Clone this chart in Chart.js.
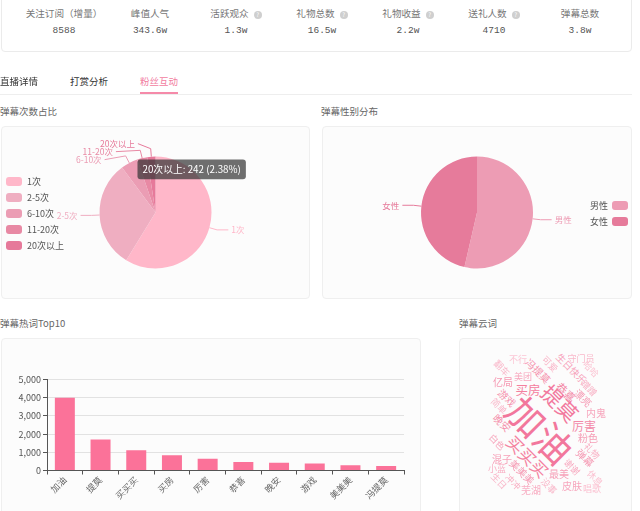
<!DOCTYPE html>
<html lang="zh-CN">
<head>
<meta charset="UTF-8">
<title>粉丝互动</title>
<script src="https://cdn.jsdelivr.net/npm/chart.js@4"></script>
<style>
  body {
    margin: 0;
    width: 640px;
    height: 511px;
    overflow: hidden;
    background: #fff;
    font-family: "Noto Sans CJK SC", "Noto Sans", sans-serif;
    color: #333;
    position: relative;
  }
  .abs { position: absolute; }
  .card {
    position: absolute;
    box-sizing: border-box;
    border: 1px solid #efefef;
    border-radius: 4px;
    background: #fcfcfc;
    overflow: hidden;
  }
  .card canvas { position: absolute; left: 0; top: 0; }

  #stats { left: 1px; top: -8px; width: 631px; height: 60px; background: #fff; border-color: #ebebeb; }
  .stat { position: absolute; width: 86px; text-align: center; }
  .stat .lbl { position: absolute; top: 14px; width: 100%; font-size: 9.6px; color: #777; line-height: 12px; white-space: nowrap; }
  .stat .val { position: absolute; top: 32px; width: 100%; font-family: "Liberation Mono", "DejaVu Sans Mono", monospace; font-size: 9.5px; color: #555; line-height: 12px; }
  .help {
    display: inline-block; width: 8px; height: 8px; border-radius: 50%;
    background: #cfcfcf; color: #fff; font-size: 6px; line-height: 8px; text-align: center;
    margin-left: 5px; vertical-align: 0px;
  }

  .tab { top: 74px; font-size: 9.5px; color: #333; line-height: 14px; }
  .tab.on { color: #f27d9f; }
  #tabLine { left: 0; top: 94px; width: 632px; height: 1px; background: #eee; }
  #tabBar { top: 92px; height: 2px; background: #f58aa9; }

  .title { font-size: 9.5px; color: #666; line-height: 14px; }

  .legend { position: absolute; font-size: 9px; color: #555; }
  .legend .row { height: 16px; display: flex; align-items: center; }
  .legend .box { width: 16px; height: 9px; border-radius: 3px; }
  .legend.left .box { margin-right: 5px; }
  .legend.right .box { margin-left: 4px; }

  #cloud span { position: absolute; white-space: nowrap; line-height: 1; transform-origin: center; }
</style>
</head>
<body>

<div id="stats" class="card"></div>

<div id="tabLine" class="abs"></div>
<div id="tabBar" class="abs"></div>

<div class="abs title" style="left:0;top:104px">弹幕次数占比</div>
<div class="abs title" style="left:321px;top:104px">弹幕性别分布</div>
<div class="abs title" style="left:0;top:316px">弹幕热词Top10</div>
<div class="abs title" style="left:459px;top:316px">弹幕云词</div>

<div class="card" style="left:1px;top:126px;width:309px;height:173px">
  <canvas id="freqPie" width="307" height="171"></canvas>
  <div id="freqLegend" class="legend left" style="left:4px;top:46px"></div>
</div>

<div class="card" style="left:322px;top:126px;width:310px;height:173px">
  <canvas id="genderPie" width="308" height="171"></canvas>
  <div id="genderLegend" class="legend right" style="right:3px;top:70px"></div>
</div>

<div class="card" style="left:1px;top:338px;width:420px;height:200px">
  <canvas id="hotBar" width="418" height="172"></canvas>
</div>

<div class="card" id="cloud" style="left:459px;top:338px;width:173px;height:200px"></div>

<script>
// ---- data ----
const statLabels = ['关注订阅（增量）', '峰值人气', '活跃观众', '礼物总数', '礼物收益', '送礼人数', '弹幕总数'];
const statValues = ['8588', '343.6w', '1.3w', '16.5w', '2.2w', '4710', '3.8w'];
const statHelp = [false, false, true, true, true, true, false];

const tabNames = ['直播详情', '打赏分析', '粉丝互动'];
const activeTab = 2;

const freqLabels = ['1次', '2-5次', '6-10次', '11-20次', '20次以上'];
const freqValues = [5973, 3157, 500, 294, 242];
const freqColors = ['#ffb7c9', '#efaec1', '#eb9db4', '#e889a4', '#e6799a'];

const genderLabels = ['男性', '女性'];
const genderValues = [536, 464];
const genderColors = ['#ed9cb4', '#e67b9b'];

const hotWords = ['加油', '提莫', '买买买', '买房', '厉害', '恭喜', '晚安', '游戏', '美美美', '冯提莫'];
const hotCounts = [4000, 1700, 1110, 840, 650, 470, 420, 380, 290, 250];
const hotMax = 5000;
const hotStep = 1000;

const cloudWords = ['加油', '提莫', '买买买', '买房', '厉害', '恭喜', '冯提莫', '游戏', '晚安', '生日快乐',
  '守门员', '可爱', '不行', '翻车', '美团', '亿局', '哈哈', '蹭蹭', '漂亮', '内鬼',
  '简单', '粉色', '白色', '礼物', '混子', '弹幕', '谢谢', '小蓝', '美美美', '最美',
  '休息', '生日', '冲冲', '皮肤', '没事', '芜湖', '唱歌'];

// word cloud placement: [x, y, font size, rotation, colour] inside the card
const cloudLayout = [
  [81, 90, 38, 45, '#f2779c'], [100, 64, 21, 45, '#f2799e'], [68, 117, 17, 45, '#f4819f'],
  [68, 51, 12.5, 0, '#f4809f'], [124, 87, 12, 0, '#f38aa8'], [106, 53, 11, 45, '#f38aa8'],
  [78, 32, 10, 45, '#f591ad'], [47, 59, 10, 45, '#f591ad'], [42, 84, 10, 45, '#f48fab'],
  [111, 30, 9.5, 45, '#f7a2bb'], [121, 19, 9, 0, '#f9b8ca'], [90, 25, 9, 45, '#f9b4c7'],
  [58, 20, 9, 0, '#fbc6d5'], [42, 29, 9, 45, '#f9b8ca'], [63, 37, 9, 0, '#f7a6bd'],
  [43, 43, 10, 0, '#f598b2'], [131, 30, 9, 45, '#fbc3d2'], [129, 49, 9, 45, '#f8afc3'],
  [123, 59, 10, 45, '#f59cb5'], [136, 74, 10, 0, '#f7a6bd'], [39, 67, 9, 45, '#f9b8ca'],
  [128, 99, 10, 0, '#f59cb5'], [37, 103, 9, 45, '#f7a8be'], [132, 112, 9, 45, '#f8b0c4'],
  [42, 120, 10, 0, '#f6a0b8'], [125, 119, 10, 45, '#f598b2'], [112, 128, 9, 45, '#f7a6bd'],
  [37, 129, 9, 0, '#f8aec3'], [62, 133, 10, 45, '#f598b2'], [99, 135, 10, 0, '#f6a0b8'],
  [135, 139, 9, 45, '#fbc0d0'], [39, 142, 9, 45, '#f9b8ca'], [53, 143, 9, 45, '#f8afc3'],
  [112, 147, 10, 0, '#f7a6bd'], [89, 147, 9, 45, '#f9b8ca'], [71, 151, 10, 0, '#f8aec3'],
  [132, 149, 9, 0, '#fbc3d2']
];

const font = '"Noto Sans CJK SC", "Noto Sans", sans-serif';

// ---- header stats ----
const statsBox = document.getElementById('stats');
statLabels.forEach((name, i) => {
  const d = document.createElement('div');
  d.className = 'stat';
  d.style.left = (19 + i * 86) + 'px';
  d.innerHTML = '<div class="lbl">' + name + (statHelp[i] ? '<span class="help">?</span>' : '') +
    '</div><div class="val">' + statValues[i] + '</div>';
  statsBox.appendChild(d);
});

// ---- tabs ----
tabNames.forEach((t, i) => {
  const d = document.createElement('div');
  d.className = 'abs tab' + (i === activeTab ? ' on' : '');
  d.style.left = (i * 70) + 'px';
  d.textContent = t;
  document.body.appendChild(d);
  if (i === activeTab) {
    const bar = document.getElementById('tabBar');
    bar.style.left = (i * 70) + 'px';
    bar.style.width = '38px';
  }
});

// ---- legends ----
function buildLegend(id, labels, colors, boxRight) {
  const el = document.getElementById(id);
  labels.forEach((l, i) => {
    const row = document.createElement('div');
    row.className = 'row';
    const box = '<span class="box" style="background:' + colors[i] + '"></span>';
    row.innerHTML = boxRight ? '<span>' + l + '</span>' + box : box + '<span>' + l + '</span>';
    el.appendChild(row);
  });
}
buildLegend('freqLegend', freqLabels, freqColors, false);
buildLegend('genderLegend', genderLabels, genderColors, true);

// ---- outside pie labels with leader lines ----
const pieLabels = {
  id: 'pieLabels',
  afterDatasetsDraw(chart) {
    const ctx = chart.ctx;
    const meta = chart.getDatasetMeta(0);
    const colors = chart.data.datasets[0].backgroundColor;
    const items = meta.data.map((arc, i) => {
      const mid = (arc.startAngle + arc.endAngle) / 2;
      const r = arc.outerRadius;
      const y1 = arc.y + Math.sin(mid) * (r + 8);
      return {
        i, cx: arc.x, cy: arc.y, r,
        x0: arc.x + Math.cos(mid) * r, y0: arc.y + Math.sin(mid) * r,
        x1: arc.x + Math.cos(mid) * (r + 8), y1, y: y1,
        right: Math.cos(mid) >= 0
      };
    });
    // keep labels on the same side from overlapping
    [true, false].forEach(side => {
      const list = items.filter(t => t.right === side).sort((a, b) => a.y - b.y);
      let group = [];
      const flush = () => {
        if (group.length > 1) {
          const shift = group.reduce((s, t) => s + t.y1 - t.y, 0) / group.length;
          group.forEach(t => { t.y += shift; });
        }
      };
      list.forEach((t, k) => {
        if (k > 0 && t.y < list[k - 1].y + 8) {
          t.y = list[k - 1].y + 8;
          group.push(t);
        } else {
          flush();
          group = [t];
        }
      });
      flush();
    });

    ctx.save();
    ctx.font = '8.5px ' + font;
    ctx.textBaseline = 'middle';
    ctx.lineWidth = 1;
    items.forEach(t => {
      const dy = t.y - t.cy;
      const R = t.r + 14;
      const dx = Math.sqrt(Math.max(0, R * R - dy * dy)) + 5;
      const x2 = t.right ? t.cx + dx : t.cx - dx;
      ctx.strokeStyle = colors[t.i];
      ctx.beginPath();
      ctx.moveTo(t.x0, t.y0);
      ctx.lineTo(t.x1, t.y1);
      ctx.lineTo(x2, t.y);
      ctx.stroke();
      ctx.fillStyle = colors[t.i];
      ctx.textAlign = t.right ? 'left' : 'right';
      ctx.fillText(chart.data.labels[t.i], t.right ? x2 + 3 : x2 - 3, t.y);
    });
    ctx.restore();
  }
};

const TooltipPlugin = Chart.Tooltip || Chart.registry.plugins.get('tooltip');
TooltipPlugin.positioners.nearCenter = function (items) {
  if (!items.length) return false;
  const el = items[0].element;
  return { x: el.x - 15, y: el.y - 53 };
};

function makePie(id, labels, values, colors, tipIndex) {
  const total = values.reduce((a, b) => a + b, 0);
  const chart = new Chart(document.getElementById(id), {
    type: 'pie',
    data: {
      labels: labels,
      datasets: [{
        data: values,
        backgroundColor: colors,
        hoverBackgroundColor: colors,
        borderWidth: 0,
        hoverBorderWidth: 0,
        radius: 56
      }]
    },
    options: {
      responsive: false,
      animation: false,
      events: [],
      plugins: {
        legend: { display: false },
        tooltip: {
          enabled: tipIndex != null,
          position: 'nearCenter',
          xAlign: 'left',
          yAlign: 'top',
          caretSize: 0,
          caretPadding: 0,
          cornerRadius: 3,
          displayColors: false,
          backgroundColor: 'rgba(50,50,50,0.7)',
          bodyColor: '#fff',
          bodyFont: { family: font, size: 9.8 },
          padding: { x: 5, y: 4 },
          callbacks: {
            title: () => '',
            label: (c) => c.label + ': ' + c.parsed + ' (' + (c.parsed / total * 100).toFixed(2) + '%)'
          }
        }
      }
    },
    plugins: [pieLabels]
  });
  if (tipIndex != null) {
    chart.tooltip.setActiveElements([{ datasetIndex: 0, index: tipIndex }], { x: 0, y: 0 });
    chart.update();
  }
  return chart;
}

makePie('freqPie', freqLabels, freqValues, freqColors, 4);
makePie('genderPie', genderLabels, genderValues, genderColors, null);

// ---- top10 bar chart ----
new Chart(document.getElementById('hotBar'), {
  type: 'bar',
  data: {
    labels: hotWords,
    datasets: [{
      data: hotCounts,
      backgroundColor: '#fb7299',
      borderWidth: 0,
      categoryPercentage: 1,
      barPercentage: 0.56
    }]
  },
  options: {
    responsive: false,
    animation: false,
    events: [],
    layout: { padding: { left: 0, top: 40.5, right: 16, bottom: 0 } },
    plugins: { legend: { display: false }, tooltip: { enabled: false } },
    scales: {
      x: {
        offset: true,
        grid: { display: true, drawOnChartArea: false, offset: true, tickLength: 4, color: '#555' },
        border: { color: '#555' },
        ticks: { minRotation: 45, maxRotation: 45, color: '#666', font: { family: font, size: 9 }, padding: 0 },
        afterFit: (s) => { s.height = 40.5; }
      },
      y: {
        min: 0,
        max: hotMax,
        ticks: { stepSize: hotStep, color: '#555', font: { family: font, size: 9 }, padding: 2 },
        grid: { color: '#e2e2e2', tickColor: '#555', tickLength: 4 },
        border: { color: '#555' },
        afterFit: (s) => { s.width = 45; }
      }
    }
  }
});

// ---- word cloud ----
const cloud = document.getElementById('cloud');
cloudWords.forEach((w, i) => {
  const [x, y, size, rot, color] = cloudLayout[i];
  const s = document.createElement('span');
  s.textContent = w;
  s.style.left = x + 'px';
  s.style.top = y + 'px';
  s.style.fontSize = size + 'px';
  s.style.color = color;
  s.style.transform = 'translate(-50%, -50%) rotate(' + rot + 'deg)';
  cloud.appendChild(s);
});
</script>
</body>
</html>
